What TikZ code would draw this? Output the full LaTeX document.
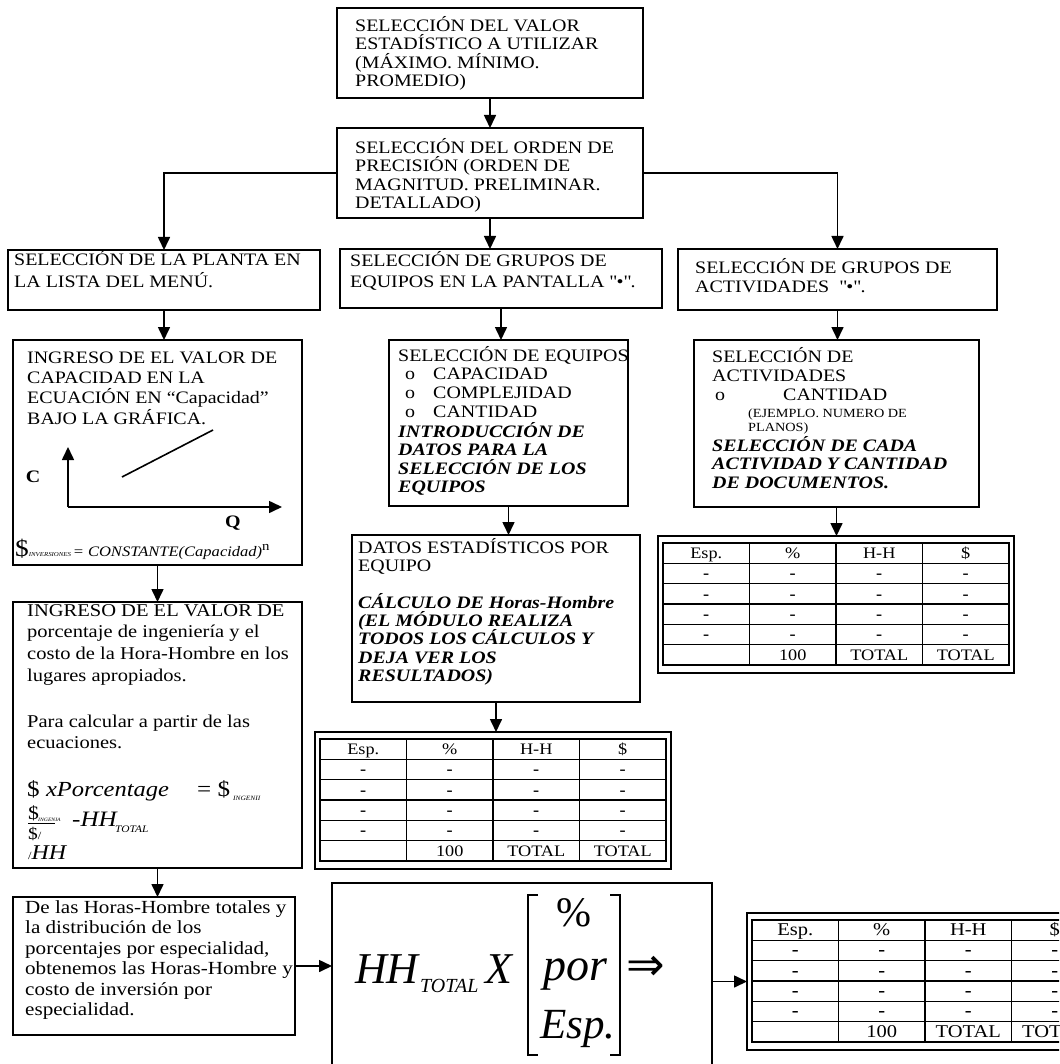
\documentclass[tikz,border=0pt]{standalone}
\usepackage{fontspec}
\setmainfont{Liberation Serif}[FakeStretch=1.14]
\newfontfamily\fmfont{Liberation Serif}
\newfontfamily\symfont{DejaVu Sans}
\usetikzlibrary{arrows.meta,calc}
\newcommand\fsz[2]{\fontsize{#1}{#2}\selectfont\lineskiplimit=-40pt\relax}
\newcommand\bxn[5]{\node[bx,minimum width=#4pt,minimum height=#5pt] (#1) at (#2,#3) {};}
\newcommand\txtl[5][]{\node[tx,#1] (#2) at (#3,#4-17) {\rule{0pt}{17pt}#5};}
\newcommand\qd{\textquotedbl}
\newcommand\tbl[4]{%
  \node[tframe,minimum width=356pt,minimum height=137pt] (#1) at (#2,#3) {};
  \begin{scope}[shift={(#2+5,#3+7)}]
    \draw[tgrid] (0,0) rectangle (346,122);
    \foreach \c in {86.5,173,259.5} \draw[tgrid] (\c,0) -- (\c,122);
    \foreach \r in {20.3,40.7,61,81.3,101.7} \draw[tgrid] (0,\r) -- (346,\r);
    \foreach \t [count=\i] in {Esp.,\%,H-H,\$}
      \node[tt,font={\fsz{#4}{#4}}] (#1h\i) at (86.5*\i-43.25,15.5) {\t};
    \foreach \r in {1,...,4} \foreach \i in {1,...,4}
      \node[tt,font={\fsz{#4}{#4}\bfseries}] (#1d\r\i) at (86.5*\i-43.25,15.5+20.33*\r) {-};
    \foreach \t [count=\i from 2] in {100,TOTAL,TOTAL}
      \node[tt,font={\fsz{#4}{#4}}] (#1f\i) at (86.5*\i-43.25,117) {\t};
  \end{scope}}
\begin{document}
\begin{tikzpicture}[x=1pt,y=-1pt,
  bx/.style={draw,line width=1.8pt,anchor=north west,inner sep=0pt,outer sep=0pt},
  tx/.style={anchor=north west,align=left,inner sep=0pt,font={\fsz{17.5}{18.5}}},
  arr/.style={-{Triangle[length=13pt,width=12pt]},line width=1.6pt},
  ln/.style={line width=1.6pt},
  tframe/.style={draw,line width=1.8pt,anchor=north west,inner sep=0pt,outer sep=0pt},
  tgrid/.style={line width=1.4pt},
  tt/.style={inner sep=0pt,anchor=base},
  bl/.style={anchor=base west,inner sep=0pt},
]
\useasboundingbox (0,0) rectangle (1059,1064);
\fill[white] (0,0) rectangle (1059,1064);
\clip (0,0) rectangle (1059,1064);

% ---------- boxes ----------
\bxn{b1}{337}{8}{306}{90}
\bxn{b2}{337}{128}{306}{90}
\bxn{l3}{8}{250}{312}{60}
\bxn{m3}{340}{249}{322}{59}
\bxn{r3}{678}{249}{319}{61}
\bxn{l4}{13}{340}{289}{225}
\bxn{m4}{389}{340}{239}{166}
\bxn{r4}{694}{340}{285}{167}
\bxn{m5}{352}{535}{288}{167}
\bxn{l5}{13}{602}{289}{266}
\bxn{l6}{13}{897}{282}{138}
\bxn{fb}{332}{883}{380}{220}

% ---------- texts ----------
\txtl{b1t}{355}{31}{SELECCIÓN DEL VALOR\\ESTADÍSTICO A UTILIZAR\\(MÁXIMO. MÍNIMO.\\PROMEDIO)}
\txtl{b2t}{355}{153}{SELECCIÓN DEL ORDEN DE\\PRECISIÓN (ORDEN DE\\MAGNITUD. PRELIMINAR.\\DETALLADO)}
\txtl[font={\fsz{17.5}{22}}]{l3t}{14}{265}{SELECCIÓN DE LA PLANTA EN\\LA LISTA DEL MENÚ.}
\txtl[font={\fsz{17.5}{21}}]{m3t}{350}{266}{SELECCIÓN DE GRUPOS DE\\EQUIPOS EN LA PANTALLA \qd•\qd.}
\txtl[font={\fsz{17.5}{19}}]{r3t}{695}{273}{SELECCIÓN DE GRUPOS DE\\ACTIVIDADES\ \ \qd•\qd.}

\txtl[font={\fsz{17.5}{20.3}}]{l4t}{27}{363}{INGRESO DE EL VALOR DE\\CAPACIDAD EN LA\\ECUACIÓN EN “Capacidad”\\BAJO LA GRÁFICA.}
\coordinate (gO) at (68,507);
\draw[arr] (gO) -- (68,447);
\draw[arr] (gO) -- (282,507);
\draw[ln] (122,477) -- (213,430);
\node[inner sep=0pt,font={\fsz{17.5}{18}\bfseries}] (gC) at (33,477) {C};
\node[inner sep=0pt,font={\fsz{17.5}{18}\bfseries}] (gQ) at (233,523) {Q};
\node[bl] (l4f) at (15,556) {\fsz{24}{24}\$\fsz{6}{6}\itshape INVERSIONES\ \fsz{14.5}{14.5}= CONSTANTE(Capacidad)\raisebox{6pt}{\upshape\fsz{13}{13}n}};

\txtl[font={\fsz{17.5}{18.6}}]{m4ta}{398}{361}{SELECCIÓN DE EQUIPOS\\\hspace*{7pt}\makebox[28pt][l]{o}CAPACIDAD\\\hspace*{7pt}\makebox[28pt][l]{o}COMPLEJIDAD\\\hspace*{7pt}\makebox[28pt][l]{o}CANTIDAD}
\txtl[font={\fsz{17.5}{18.4}\bfseries\itshape}]{m4tb}{398}{437}{INTRODUCCIÓN DE\\DATOS PARA LA\\SELECCIÓN DE LOS\\EQUIPOS}

\txtl[font={\fsz{17.5}{18.3}}]{m5ta}{358}{553}{DATOS ESTADÍSTICOS POR\\EQUIPO}
\txtl[font={\fsz{17.5}{18.3}\bfseries\itshape}]{m5tb}{358}{608}{CÁLCULO DE Horas-Hombre\\(EL MÓDULO REALIZA\\TODOS LOS CÁLCULOS Y\\DEJA VER LOS\\RESULTADOS)}

\txtl[font={\fsz{17.5}{19}}]{r4ta}{712}{362}{SELECCIÓN DE\\ACTIVIDADES\\\hspace*{3pt}\makebox[68pt][l]{o}CANTIDAD}
\txtl[font={\fsz{12.5}{14}}]{r4tb}{748}{417}{(EJEMPLO. NUMERO DE\\PLANOS)}
\txtl[font={\fsz{17.5}{18.5}\bfseries\itshape}]{r4tc}{712}{451}{SELECCIÓN DE CADA\\ACTIVIDAD Y CANTIDAD\\DE DOCUMENTOS.}

\txtl[font={\fsz{18}{21.7}}]{l5ta}{27}{616}{INGRESO DE EL VALOR DE\\porcentaje de ingeniería y el\\costo de la Hora-Hombre en los\\lugares apropiados.}
\txtl[font={\fsz{18}{21}}]{l5tb}{27}{727}{Para calcular a partir de las\\ecuaciones.}
\node[bl] (l5f1) at (27,796) {\fsz{22}{22}\$\ \itshape\fsz{21.5}{21.5}xPorcentage};
\node[bl] (l5f2) at (197,796) {\fsz{22}{22}= \$};
\node[bl] (l5f2s) at (233,800) {\fsz{6.5}{6.5}\itshape INGENII};
\node[bl] (l5f3) at (28,819) {\fsz{19}{19}\$};
\node[bl] (l5f3s) at (38,821) {\fsz{5}{5}\itshape INGENIA};
\draw[line width=0.8pt] (28,823) -- (55,823);
\node[bl] (l5f4) at (72,826) {\fsz{22}{22}\itshape -HH};
\node[bl] (l5f4s) at (115,832) {\fsz{10}{10}\itshape TOTAL};
\node[bl] (l5f5) at (28,839) {\fsz{17}{17}\$\fsz{11}{11}/};
\node[bl] (l5f6) at (28,859) {\fsz{11}{11}/\fsz{21}{21}\itshape HH};

\txtl[font={\fsz{18.5}{20.5}}]{l6t}{25}{913}{De las Horas-Hombre totales y\\la distribución de los\\porcentajes por especialidad,\\obtenemos las Horas-Hombre y\\costo de inversión por\\especialidad.}

% ---------- formula ----------
\node[bl] (fHH) at (355,983) {\fmfont\fsz{44}{44}\itshape HH};
\node[bl] (fTOT) at (420,992) {\fmfont\fsz{20}{20}\itshape TOTAL};
\node[bl] (fX) at (485,983) {\fmfont\fsz{44}{44}\itshape X};
\draw[line width=1.3pt] (538,895) -- (528,895) -- (528,1055) -- (538,1055);
\draw[line width=1.3pt] (610,895) -- (620,895) -- (620,1055) -- (610,1055);
\node[inner sep=0pt] (fpc) at (574,913) {\fmfont\fsz{42}{42}\%};
\node[bl] (fpor) at (543,980) {\fmfont\fsz{46}{46}\itshape por};
\node[bl] (fesp) at (540,1038) {\fmfont\fsz{43}{43}\itshape Esp.};
\node[inner sep=0pt] (fimp) at (646,968) {\symfont\fsz{46}{46}⇒};

% ---------- tables ----------
\tbl{mt}{315}{732}{16}
\tbl{rt}{658}{536}{16}
\tbl{brt}{747}{913}{18}

% ---------- connectors ----------
\coordinate (hy) at (0,173);
\draw[arr] (b1.south) -- (b2.north);
\draw[arr] (b2.west |- hy) -| (l3.north);
\draw[arr] (b2.east |- hy) -| (r3.north);
\draw[arr] (b2.south) -- (b2.south |- m3.north);
\draw[arr] (l3.south) -- (l3.south |- l4.north);
\draw[arr] (l4.south) -- (l4.south |- l5.north);
\draw[arr] (l5.south) -- (l5.south |- l6.north);
\draw[arr] (m3.south) -- (m3.south |- m4.north);
\draw[arr] (m4.south) -- (m4.south |- m5.north);
\draw[arr] (m5.south) -- (m5.south |- mt.north);
\draw[arr] (r3.south) -- (r3.south |- r4.north);
\draw[arr] (r4.south) -- (r4.south |- rt.north);
\draw[arr] (l6.east) -- (l6.east -| fb.west);
\draw[arr] (fb.east |- brt.west) -- (brt.west);
\end{tikzpicture}
\end{document}
